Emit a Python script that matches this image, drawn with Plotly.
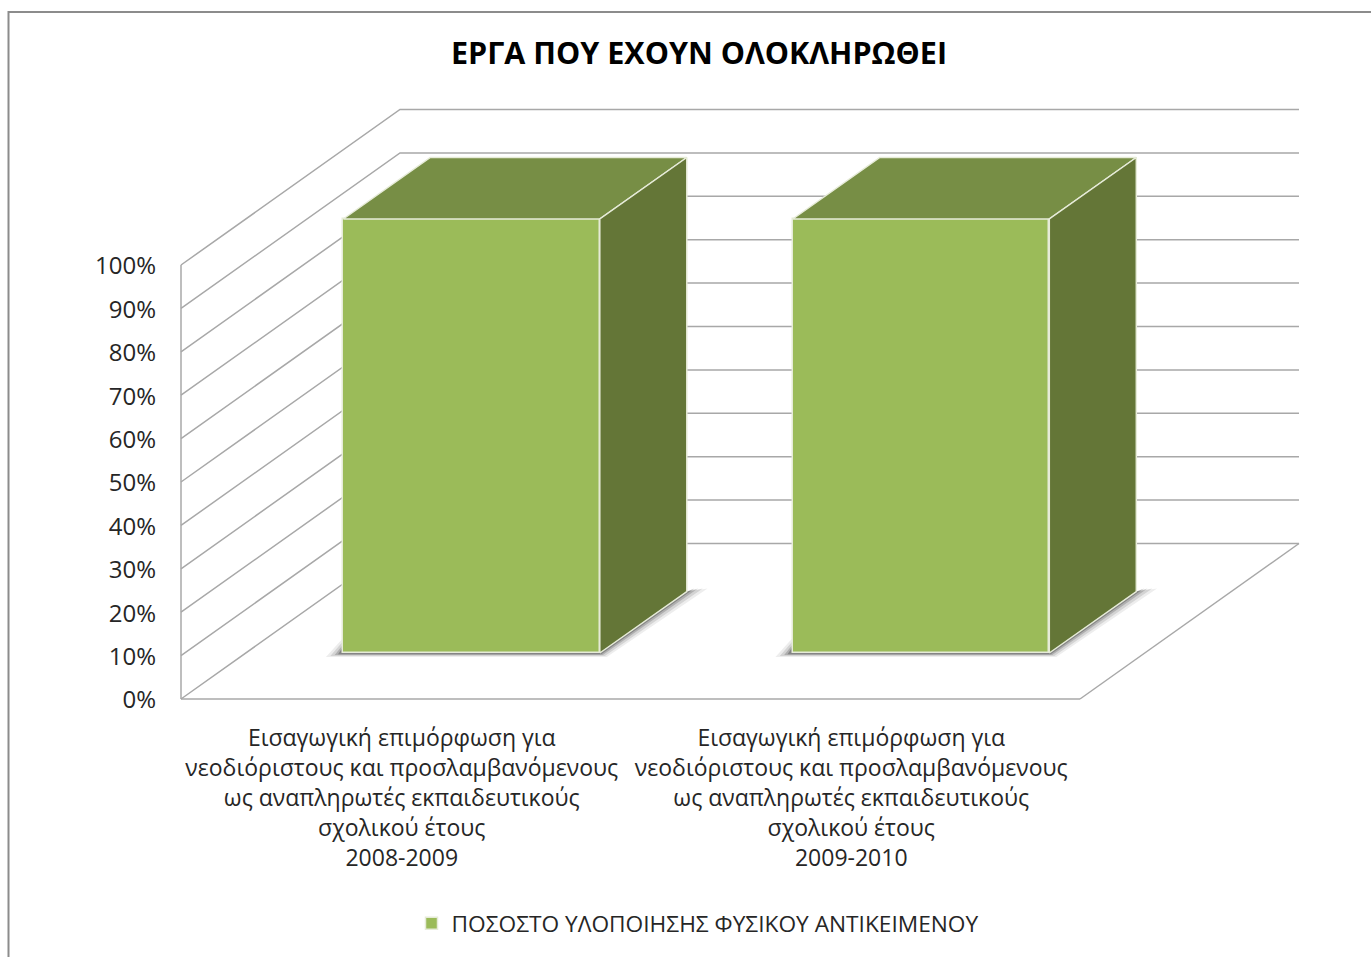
import plotly.graph_objects as go

# ---- data ----
title_text = "ΕΡΓΑ ΠΟΥ ΕΧΟΥΝ ΟΛΟΚΛΗΡΩΘΕΙ"
series_name = "ΠΟΣΟΣΤΟ ΥΛΟΠΟΙΗΣΗΣ ΦΥΣΙΚΟΥ ΑΝΤΙΚΕΙΜΕΝΟΥ"
categories = [
    "Εισαγωγική επιμόρφωση για<br>νεοδιόριστους και προσλαμβανόμενους<br>ως αναπληρωτές εκπαιδευτικούς<br>σχολικού έτους<br>2008-2009",
    "Εισαγωγική επιμόρφωση για<br>νεοδιόριστους και προσλαμβανόμενους<br>ως αναπληρωτές εκπαιδευτικούς<br>σχολικού έτους<br>2009-2010",
]
values = [100, 100]
y_ticks = [0, 10, 20, 30, 40, 50, 60, 70, 80, 90, 100]

# ---- layout constants (pixels) ----
W, H = 1371, 957
X0, X1 = 181, 1080      # front plane of the plot box
Y0, Y100 = 699, 265
PX_PER_CAT = (X1 - X0) / 2
PX_PER_PCT = (Y0 - Y100) / 100
WALL_DX, WALL_DY = 219, 155.5   # depth of the box
BAR_DX, BAR_DY = 65.8, 46       # offset of the bar front from the front plane
BAR_W = 256.5                   # bar width
SIDE_DX, SIDE_DY = 87, 61.5     # bar depth

GRID = "#A8A8A8"
FRONT, TOP, SIDE = "#9BBB59", "#778E45", "#647637"
EDGE = "#E6EBD8"
FONT = "Open Sans"
TEXT = "#262626"


def ox(px):
    return px / PX_PER_CAT


def oy(px):
    return px / PX_PER_PCT


# axes span the whole page, so the walls drawn in depth are not cut off
x_range = [-0.5 - ox(X0), -0.5 - ox(X0) + ox(W)]
y_range = [-oy(H - Y0), oy(Y0)]

fig = go.Figure()

# grid: front axis lines, side wall, back wall, floor
gx, gy = [-0.5, -0.5, None, -0.5, 1.5, None], [100, 0, None, 0, 0, None]
for t in y_ticks:
    gx += [-0.5, -0.5 + ox(WALL_DX), 1.5 + ox(WALL_DX), None]
    gy += [t, t + oy(WALL_DY), t + oy(WALL_DY), None]
gx += [1.5, 1.5 + ox(WALL_DX)]
gy += [0, oy(WALL_DY)]
fig.add_trace(go.Scatter(x=gx, y=gy, mode="lines", line=dict(color=GRID, width=1.5),
                         showlegend=False, hoverinfo="skip"))

# soft floor shadows under each bar
for i in range(len(values)):
    cx = i + ox(BAR_DX)
    left = cx - ox(BAR_W) / 2
    right = cx + ox(BAR_W) / 2
    b = oy(BAR_DY)
    for spread, alpha in [(7, 0.07), (5, 0.11), (3, 0.17), (1.5, 0.24)]:
        sx = [right + ox(spread), right + ox(SIDE_DX + 4 + spread * 2.4), right + ox(SIDE_DX),
              right, left, left, left - ox(2 + spread * 2.2), right]
        sy = [b - oy(spread / 2 + 0.5), b + oy(SIDE_DY + 3), b + oy(SIDE_DY), b, b, b + oy(4 + spread * 1.6),
              b - oy(spread / 2 + 0.5), b - oy(spread / 2 + 0.5)]
        fig.add_trace(go.Scatter(x=sx, y=sy, mode="lines", fill="toself",
                                 fillcolor=f"rgba(0,0,0,{alpha})", line=dict(width=0),
                                 showlegend=False, hoverinfo="skip"))

# bar fronts on the overlay axes, so they sit over the grid
fig.add_trace(go.Bar(
    x=[i + ox(BAR_DX) for i in range(len(values))],
    y=values,
    base=oy(BAR_DY),
    width=ox(BAR_W),
    name=series_name,
    marker=dict(color=FRONT, line=dict(color=EDGE, width=1.5)),
    xaxis="x2", yaxis="y2", hoverinfo="skip",
))

# bar top and side faces
for i, v in enumerate(values):
    cx = i + ox(BAR_DX)
    left = cx - ox(BAR_W) / 2
    right = cx + ox(BAR_W) / 2
    b = oy(BAR_DY)
    d_x, d_y = ox(SIDE_DX), oy(SIDE_DY)
    fig.add_trace(go.Scatter(
        x=[left, right, right + d_x, left + d_x, left],
        y=[b + v, b + v, b + v + d_y, b + v + d_y, b + v],
        mode="lines", fill="toself", fillcolor=TOP, line=dict(color=EDGE, width=1.5),
        xaxis="x2", yaxis="y2", showlegend=False, hoverinfo="skip"))
    fig.add_trace(go.Scatter(
        x=[right, right + d_x, right + d_x, right, right],
        y=[b, b + d_y, b + v + d_y, b + v, b],
        mode="lines", fill="toself", fillcolor=SIDE, line=dict(color=EDGE, width=1.5),
        xaxis="x2", yaxis="y2", showlegend=False, hoverinfo="skip"))

fig.update_layout(
    width=W, height=H,
    margin=dict(l=0, r=0, t=0, b=0, pad=0),
    autosize=False,
    paper_bgcolor="white", plot_bgcolor="rgba(0,0,0,0)",
    font=dict(family=FONT, size=22, color=TEXT),
    title=dict(text=f"<b>{title_text}</b>", x=699 / W, xanchor="center", y=1 - 53 / H, yanchor="middle",
               font=dict(family=FONT, size=30.5, color="black")),
    bargap=0,
    showlegend=True,
    legend=dict(orientation="h", x=698 / W, xanchor="center", y=1 - 923.5 / H, yanchor="middle",
                font=dict(family=FONT, size=22.7, color=TEXT), bgcolor="rgba(0,0,0,0)"),
    xaxis=dict(domain=[0, 1], range=x_range, anchor="free", position=1 - Y0 / H,
               tickmode="array", tickvals=[0, 1], ticktext=categories,
               showgrid=False, zeroline=False, showline=False, automargin=False,
               ticks="", ticklabelstandoff=23, ticklabelshift=-4, tickangle=0,
               tickfont=dict(family=FONT, size=23, color=TEXT)),
    yaxis=dict(domain=[0, 1], range=y_range, anchor="free", position=X0 / W,
               tickmode="array", tickvals=y_ticks, ticktext=[f"{t}%" for t in y_ticks],
               showgrid=False, zeroline=False, showline=False, automargin=False,
               ticks="", ticklabelstandoff=25, ticklabelshift=1,
               tickfont=dict(family=FONT, size=24, color=TEXT)),
    xaxis2=dict(domain=[0, 1], range=x_range, overlaying="x", visible=False),
    yaxis2=dict(domain=[0, 1], range=y_range, overlaying="y", visible=False),
    shapes=[dict(type="rect", xref="paper", yref="paper", x0=8.5 / W, x1=1.02, y0=-0.02, y1=1 - 12 / H,
                 line=dict(color="#8C8C8C", width=2), fillcolor="rgba(0,0,0,0)", layer="below")],
)

fig.write_html("out.html", config={"displayModeBar": False},
               post_script="document.body.style.margin='0';document.body.style.overflow='hidden';")
